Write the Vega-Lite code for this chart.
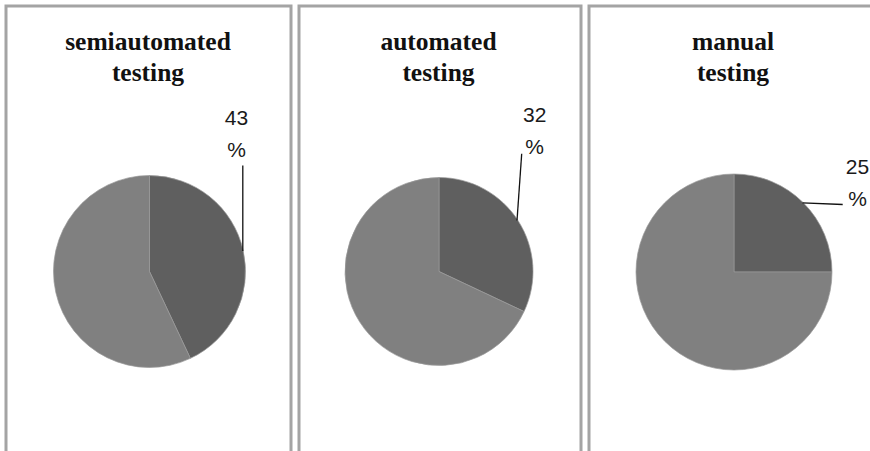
{
  "$schema": "https://vega.github.io/schema/vega-lite/v6.json",
  "padding": {"left": 4, "top": 4, "right": 0, "bottom": 0},
  "background": "white",
  "spacing": 4,
  "config": {
    "view": {"stroke": "#a4a4a4", "strokeWidth": 3}
  },
  "resolve": {"scale": {"x": "independent", "y": "independent", "theta": "independent"}},
  "hconcat": [
    {
      "width": 285, "height": 447,
      "data": {"values": [
        {"kind": "testing", "part": "semiautomated testing", "value": 43, "label": "43 %"},
        {"kind": "other", "part": "other", "value": 57, "label": "57 %"}
      ]},
      "layer": [
        {
          "mark": {"type": "arc", "outerRadius": 96, "stroke": "#9a9a9a", "strokeWidth": 0.7},
          "encoding": {
            "theta": {"field": "value", "type": "quantitative", "stack": true},
            "order": {"field": "value", "sort": "ascending"},
            "color": {"field": "kind", "type": "nominal", "scale": {"domain": ["testing", "other"], "range": ["#5f5f5f", "#808080"]}, "legend": null},
            "x": {"datum": 143.5, "type": "quantitative", "scale": {"domain": [0, 285], "nice": false, "zero": false}, "axis": null},
            "y": {"datum": 265.5, "type": "quantitative", "scale": {"domain": [0, 447], "reverse": true, "nice": false, "zero": false}, "axis": null}
          }
        },
        {
          "transform": [{"filter": "datum.kind == 'testing'"}],
          "mark": {"type": "rule", "color": "#111111", "strokeWidth": 1.3},
          "encoding": {
            "x": {"datum": 236.8, "type": "quantitative"},
            "y": {"datum": 159.5, "type": "quantitative"},
            "x2": {"datum": 236.8},
            "y2": {"datum": 245}
          }
        },
        {
          "transform": [{"filter": "datum.kind == 'testing'"}],
          "mark": {"type": "text", "font": "Liberation Sans", "fontSize": 21, "color": "#1a1a1a", "align": "center", "baseline": "alphabetic", "lineBreak": " ", "lineHeight": 32},
          "encoding": {
            "x": {"datum": 230.5, "type": "quantitative"},
            "y": {"datum": 118.5, "type": "quantitative"},
            "text": {"field": "label"}
          }
        },
        {
          "data": {"values": [{"title": "semiautomated testing"}]},
          "mark": {"type": "text", "font": "Liberation Serif", "fontSize": 25.5, "fontWeight": "bold", "color": "#111111", "align": "center", "baseline": "alphabetic", "lineBreak": " ", "lineHeight": 31},
          "encoding": {
            "x": {"datum": 142, "type": "quantitative"},
            "y": {"datum": 43.5, "type": "quantitative"},
            "text": {"field": "title"}
          }
        }
      ]
    },
    {
      "width": 282, "height": 447,
      "data": {"values": [
        {"kind": "testing", "part": "automated testing", "value": 32, "label": "32 %"},
        {"kind": "other", "part": "other", "value": 68, "label": "68 %"}
      ]},
      "layer": [
        {
          "mark": {"type": "arc", "outerRadius": 94, "stroke": "#9a9a9a", "strokeWidth": 0.7},
          "encoding": {
            "theta": {"field": "value", "type": "quantitative", "stack": true},
            "order": {"field": "value", "sort": "ascending"},
            "color": {"field": "kind", "type": "nominal", "scale": {"domain": ["testing", "other"], "range": ["#5f5f5f", "#808080"]}, "legend": null},
            "x": {"datum": 140, "type": "quantitative", "scale": {"domain": [0, 282], "nice": false, "zero": false}, "axis": null},
            "y": {"datum": 265.5, "type": "quantitative", "scale": {"domain": [0, 447], "reverse": true, "nice": false, "zero": false}, "axis": null}
          }
        },
        {
          "transform": [{"filter": "datum.kind == 'testing'"}],
          "mark": {"type": "rule", "color": "#111111", "strokeWidth": 1.3},
          "encoding": {
            "x": {"datum": 222.7, "type": "quantitative"},
            "y": {"datum": 147.8, "type": "quantitative"},
            "x2": {"datum": 218},
            "y2": {"datum": 214.5}
          }
        },
        {
          "transform": [{"filter": "datum.kind == 'testing'"}],
          "mark": {"type": "text", "font": "Liberation Sans", "fontSize": 21, "color": "#1a1a1a", "align": "center", "baseline": "alphabetic", "lineBreak": " ", "lineHeight": 32},
          "encoding": {
            "x": {"datum": 235.7, "type": "quantitative"},
            "y": {"datum": 115.5, "type": "quantitative"},
            "text": {"field": "label"}
          }
        },
        {
          "data": {"values": [{"title": "automated testing"}]},
          "mark": {"type": "text", "font": "Liberation Serif", "fontSize": 25.5, "fontWeight": "bold", "color": "#111111", "align": "center", "baseline": "alphabetic", "lineBreak": " ", "lineHeight": 31},
          "encoding": {
            "x": {"datum": 139.5, "type": "quantitative"},
            "y": {"datum": 43.5, "type": "quantitative"},
            "text": {"field": "title"}
          }
        }
      ]
    },
    {
      "width": 292, "height": 447,
      "data": {"values": [
        {"kind": "testing", "part": "manual testing", "value": 25, "label": "25 %"},
        {"kind": "other", "part": "other", "value": 75, "label": "75 %"}
      ]},
      "layer": [
        {
          "mark": {"type": "arc", "outerRadius": 98, "stroke": "#9a9a9a", "strokeWidth": 0.7},
          "encoding": {
            "theta": {"field": "value", "type": "quantitative", "stack": true},
            "order": {"field": "value", "sort": "ascending"},
            "color": {"field": "kind", "type": "nominal", "scale": {"domain": ["testing", "other"], "range": ["#5f5f5f", "#808080"]}, "legend": null},
            "x": {"datum": 145, "type": "quantitative", "scale": {"domain": [0, 292], "nice": false, "zero": false}, "axis": null},
            "y": {"datum": 266, "type": "quantitative", "scale": {"domain": [0, 447], "reverse": true, "nice": false, "zero": false}, "axis": null}
          }
        },
        {
          "transform": [{"filter": "datum.kind == 'testing'"}],
          "mark": {"type": "rule", "color": "#111111", "strokeWidth": 1.3},
          "encoding": {
            "x": {"datum": 213.5, "type": "quantitative"},
            "y": {"datum": 196.8, "type": "quantitative"},
            "x2": {"datum": 253.7},
            "y2": {"datum": 198.5}
          }
        },
        {
          "transform": [{"filter": "datum.kind == 'testing'"}],
          "mark": {"type": "text", "font": "Liberation Sans", "fontSize": 21, "color": "#1a1a1a", "align": "center", "baseline": "alphabetic", "lineBreak": " ", "lineHeight": 32},
          "encoding": {
            "x": {"datum": 268.5, "type": "quantitative"},
            "y": {"datum": 167.5, "type": "quantitative"},
            "text": {"field": "label"}
          }
        },
        {
          "data": {"values": [{"title": "manual testing"}]},
          "mark": {"type": "text", "font": "Liberation Serif", "fontSize": 25.5, "fontWeight": "bold", "color": "#111111", "align": "center", "baseline": "alphabetic", "lineBreak": " ", "lineHeight": 31},
          "encoding": {
            "x": {"datum": 144, "type": "quantitative"},
            "y": {"datum": 43.5, "type": "quantitative"},
            "text": {"field": "title"}
          }
        }
      ]
    }
  ]
}
